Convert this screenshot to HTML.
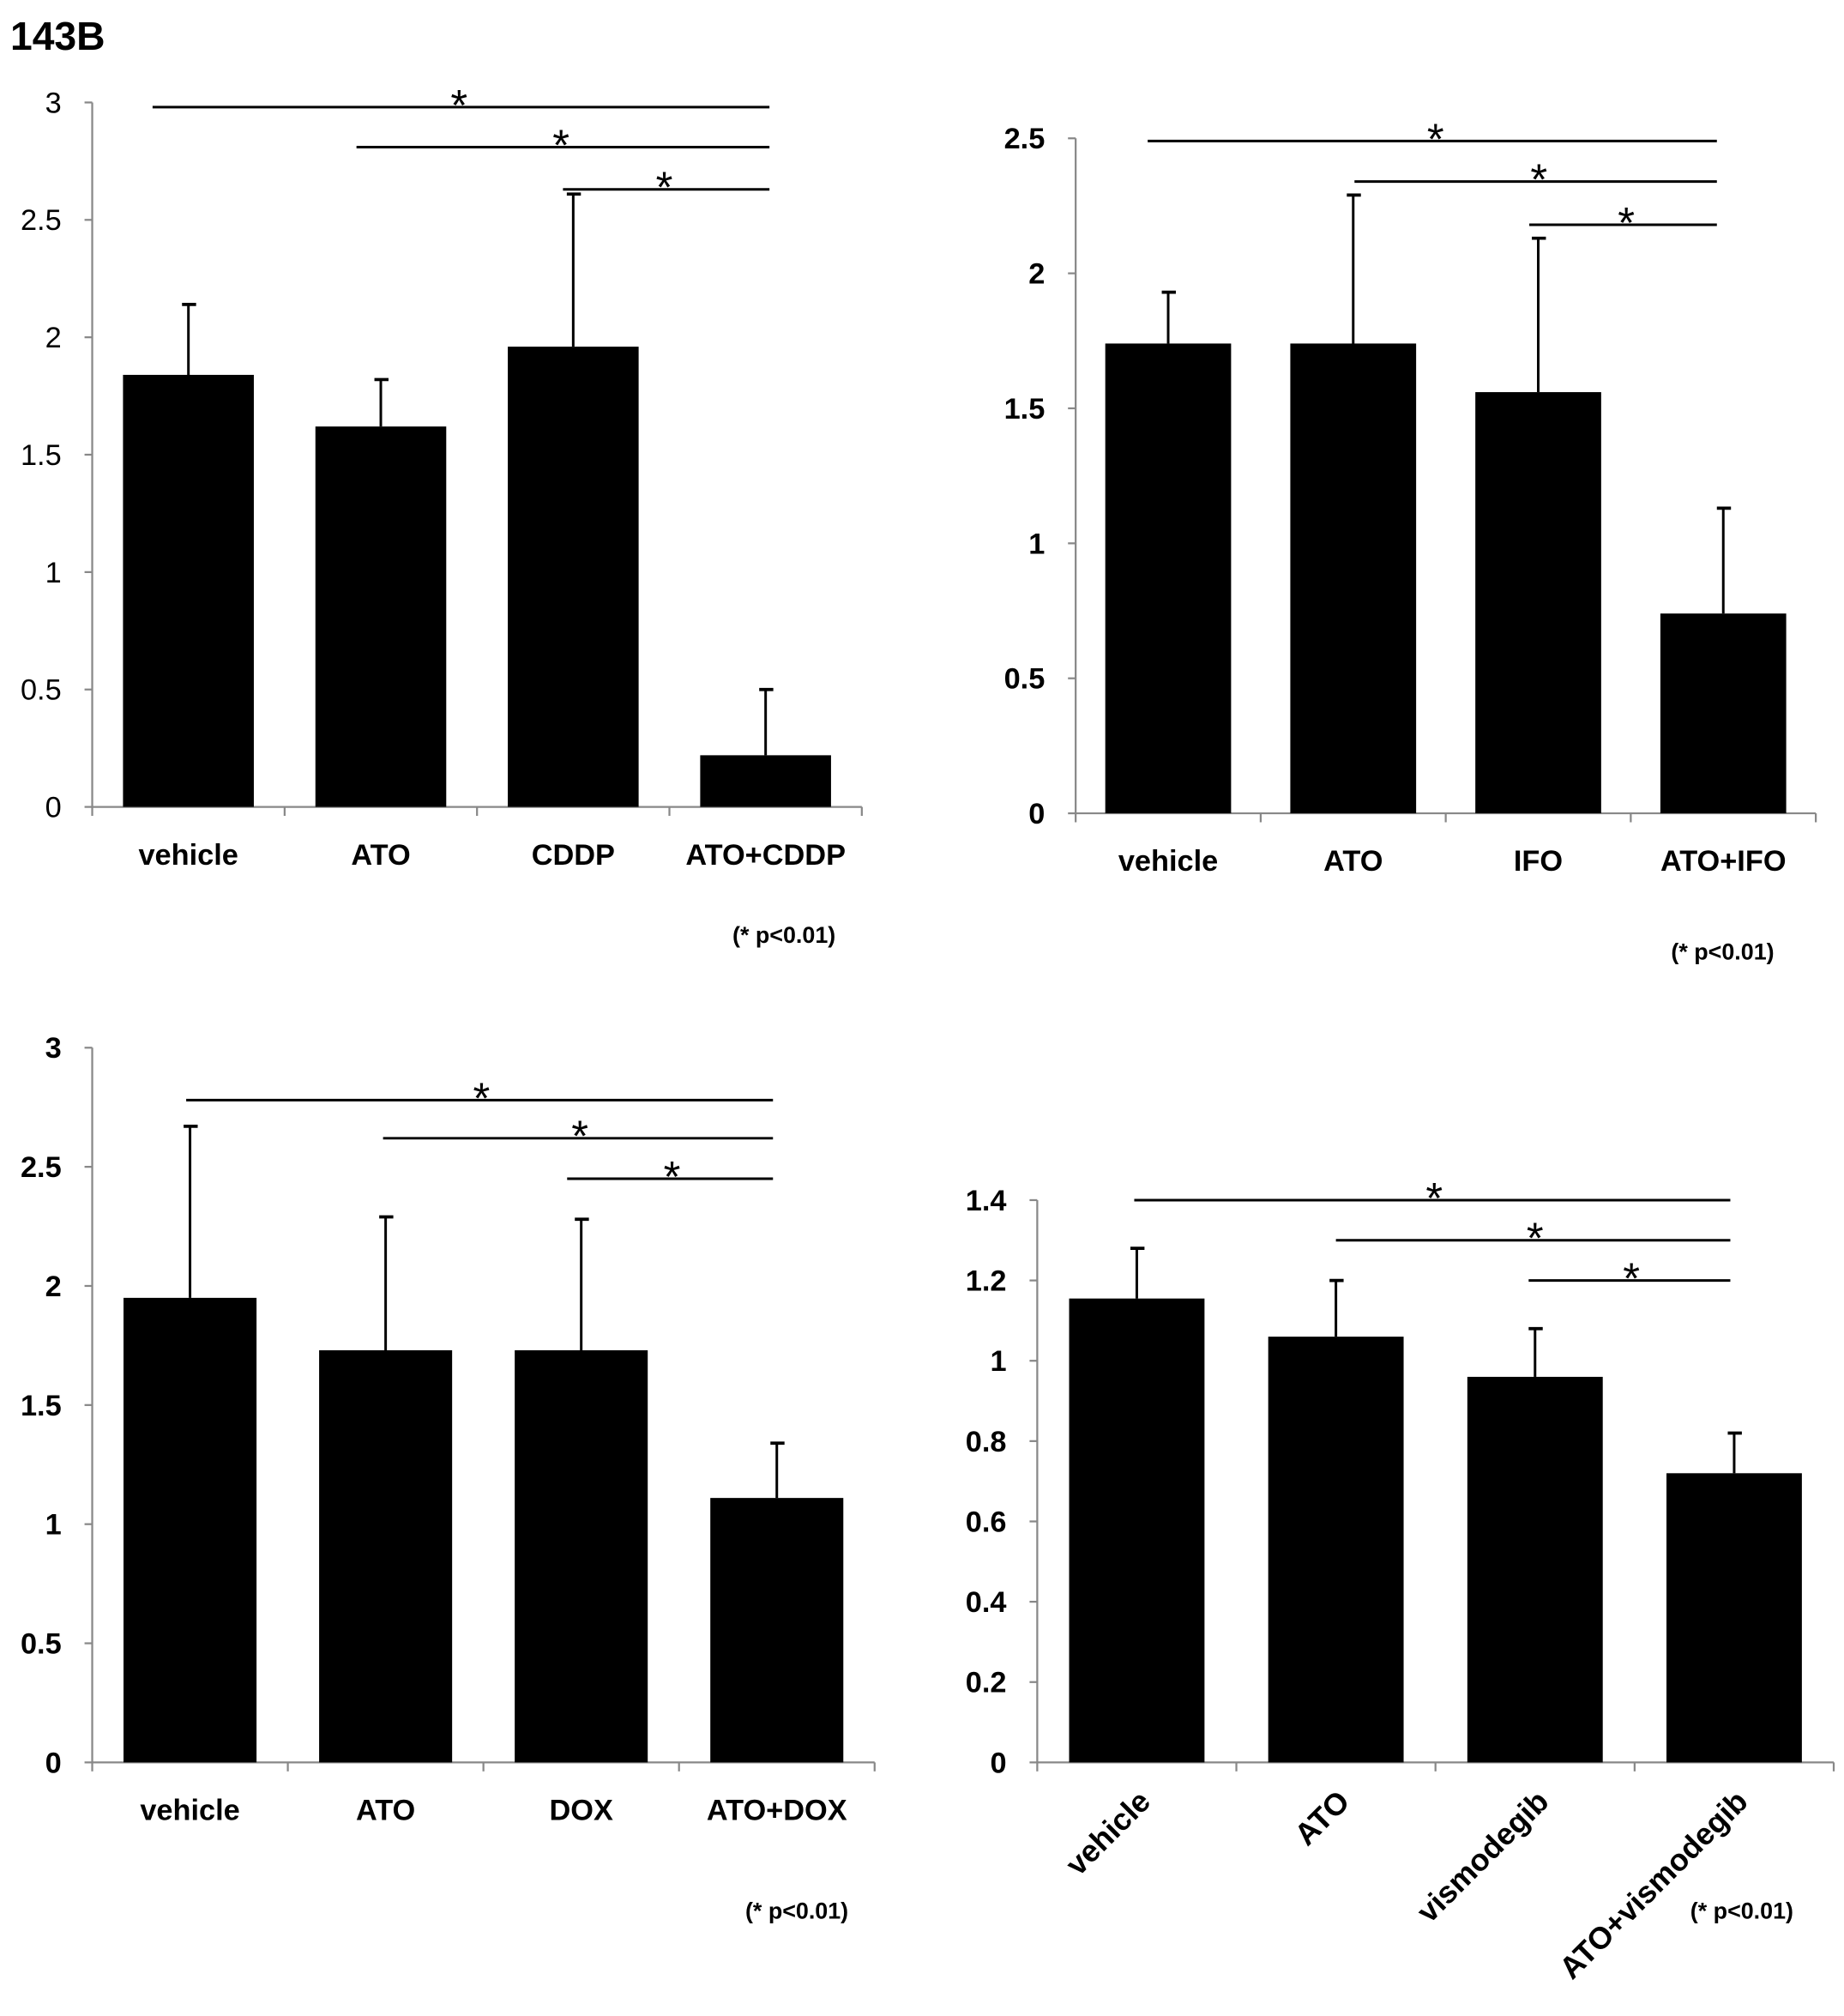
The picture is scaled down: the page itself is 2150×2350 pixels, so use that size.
<!DOCTYPE html>
<html><head><meta charset="utf-8"><style>
html,body{margin:0;padding:0;background:#fff;}
svg{display:block;font-family:"Liberation Sans",Arial,sans-serif;}
</style></head><body>
<svg id="fig" width="2150" height="2350" viewBox="0 0 1440 1574" xmlns="http://www.w3.org/2000/svg">
<text x="8" y="39" font-size="31" font-weight="bold">143B</text>
</svg>
<script>
// Panel A: CDDP
const catsA = ["vehicle","ATO","CDDP","ATO+CDDP"];
const valsA = [1.84,1.62,1.96,0.22];
const errsA = [2.14,1.82,2.61,0.50];
const ticksA = [0,0.5,1,1.5,2,2.5,3];
const tickLabelsA = ["0","0.5","1","1.5","2","2.5","3"];
const sigA = [[0,2.98],[1,2.81],[2,2.63]];
// Panel B: IFO
const catsB = ["vehicle","ATO","IFO","ATO+IFO"];
const valsB = [1.74,1.74,1.56,0.74];
const errsB = [1.93,2.29,2.13,1.13];
const ticksB = [0,0.5,1,1.5,2,2.5];
const tickLabelsB = ["0","0.5","1","1.5","2","2.5"];
const sigB = [[0,2.49],[1,2.34],[2,2.18]];
// Panel C: DOX
const catsC = ["vehicle","ATO","DOX","ATO+DOX"];
const valsC = [1.95,1.73,1.73,1.11];
const errsC = [2.67,2.29,2.28,1.34];
const ticksC = [0,0.5,1,1.5,2,2.5,3];
const tickLabelsC = ["0","0.5","1","1.5","2","2.5","3"];
const sigC = [[0,2.78],[1,2.62],[2,2.45]];
// Panel D: vismodegib
const catsD = ["vehicle","ATO","vismodegib","ATO+vismodegib"];
const valsD = [1.155,1.06,0.96,0.72];
const errsD = [1.28,1.20,1.08,0.82];
const ticksD = [0,0.2,0.4,0.6,0.8,1,1.2,1.4];
const tickLabelsD = ["0","0.2","0.4","0.6","0.8","1","1.2","1.4"];
const sigD = [[0,1.40],[1,1.30],[2,1.20]];

const NS="http://www.w3.org/2000/svg";
const svg=document.getElementById('fig');
function mk(tag,attrs,parent){const e=document.createElementNS(NS,tag);for(const k in attrs)e.setAttribute(k,attrs[k]);(parent||svg).appendChild(e);return e;}

function panel(p){
  const g=mk('g',{});
  
  
  const ymax=p.ticks[p.ticks.length-1];
  const y=v=>p.y0-(p.y0-p.yTop)*v/ymax;
  const step=(p.x1-p.x0)/p.cats.length;
  const cx=i=>p.x0+step*(i+0.5);
  const bw=step*0.68;
  const ya=mk('line',{x1:p.x0,y1:y(ymax),x2:p.x0,y2:p.y0,stroke:'#888','stroke-width':1.5},g);
  
  
  const xa=mk('line',{x1:p.x0,y1:p.y0,x2:p.x1,y2:p.y0,stroke:'#888','stroke-width':1.5},g);
  
  
  p.ticks.forEach((t,i)=>{
    mk('line',{x1:p.x0-6,y1:y(t),x2:p.x0,y2:y(t),stroke:'#888','stroke-width':1.5},g);
    const tl=mk('text',{x:p.x0-24,y:y(t)+8,'text-anchor':'end','font-size':23,'font-weight':p.boldTicks?'bold':'normal'},g);
    tl.textContent=p.tickLabels[i];
    
    
  });
  for(let i=0;i<=p.cats.length;i++){
    mk('line',{x1:p.x0+step*i,y1:p.y0,x2:p.x0+step*i,y2:p.y0+7,stroke:'#888','stroke-width':1.5},g);
  }
  p.cats.forEach((c,i)=>{
    const eb=mk('line',{x1:cx(i),y1:y(p.errs[i]),x2:cx(i),y2:y(p.vals[i]),stroke:'#000','stroke-width':2},g);
    
    
    mk('line',{x1:cx(i)-5,y1:y(p.errs[i]),x2:cx(i)+6,y2:y(p.errs[i]),stroke:'#000','stroke-width':2.5},g);
    const r=mk('rect',{x:cx(i)-bw/2,y:y(p.vals[i]),width:bw,height:p.y0-y(p.vals[i]),fill:'#000'},g);
    
    
    let lbl;
    if(p.rotate){
      lbl=mk('text',{x:cx(i)+12,y:p.y0+32,'text-anchor':'end','font-size':24,'font-weight':'bold',transform:`rotate(-45 ${cx(i)+12} ${p.y0+32})`},g);
    }else{
      lbl=mk('text',{x:cx(i),y:p.y0+45,'text-anchor':'middle','font-size':23,'font-weight':'bold'},g);
    }
    lbl.textContent=c;
    
    
  });
  const last=cx(p.cats.length-1);
  p.sig.forEach((s,k)=>{
    const xs=cx(s[0])+p.sigOff[k];
    const sl=mk('line',{x1:xs,y1:y(s[1]),x2:last+p.endOff,y2:y(s[1]),stroke:'#000','stroke-width':2},g);
    
    
    const st=mk('text',{x:(xs+last)/2,y:y(s[1])+10,'text-anchor':'middle','font-size':34},g);
    st.textContent='*';
    
    
  });
  const pn=mk('text',{x:p.px,y:p.py,'font-size':18,'font-weight':'bold'},g);
  pn.textContent='(* p<0.01)';
  
  
}
panel({name:'chart-cddp',cats:catsA,vals:valsA,errs:errsA,ticks:ticksA,tickLabels:tickLabelsA,sig:sigA,sigOff:[-28,-19,-8],endOff:3,x0:72,x1:673,y0:630,yTop:80,boldTicks:false,px:572,py:736});
panel({name:'chart-ifo',cats:catsB,vals:valsB,errs:errsB,ticks:ticksB,tickLabels:tickLabelsB,sig:sigB,sigOff:[-16,1,-7],endOff:-5,x0:840,x1:1418,y0:635,yTop:108,boldTicks:true,px:1305,py:749});
panel({name:'chart-dox',cats:catsC,vals:valsC,errs:errsC,ticks:ticksC,tickLabels:tickLabelsC,sig:sigC,sigOff:[-3,-2,-11],endOff:-3,x0:72,x1:683,y0:1376,yTop:818,boldTicks:true,px:582,py:1498});
panel({name:'chart-vismodegib',cats:catsD,vals:valsD,errs:errsD,ticks:ticksD,tickLabels:tickLabelsD,sig:sigD,sigOff:[-2,0,-5],endOff:-3,x0:810,x1:1432,y0:1376,yTop:937,boldTicks:true,rotate:true,px:1320,py:1498});
</script>
</body></html>
